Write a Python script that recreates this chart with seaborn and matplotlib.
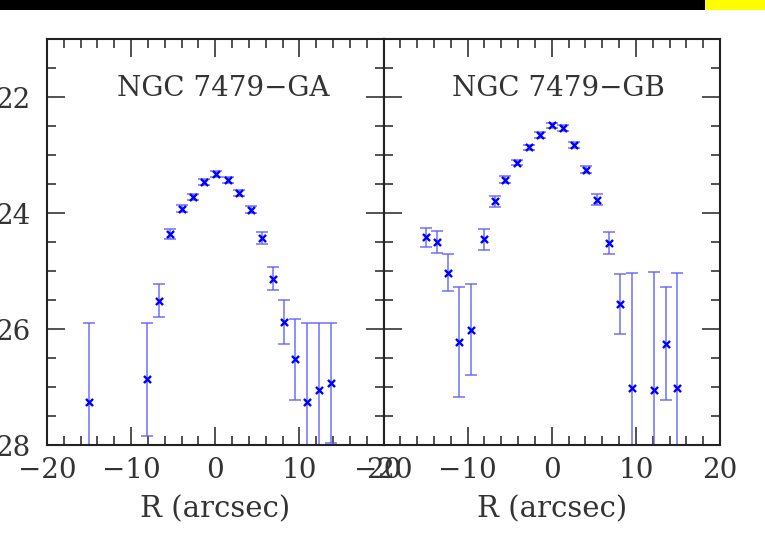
import matplotlib
matplotlib.use("Agg")
import matplotlib.pyplot as plt
from matplotlib.patches import Rectangle
import pandas as pd
import seaborn as sns

# NGC 7479 - GA profile
ga_r = [-15.0, -8.1, -6.7, -5.4, -4.0, -2.7, -1.3, 0.1, 1.5, 2.8, 4.2,
        5.6, 6.9, 8.2, 9.5, 10.9, 12.3, 13.7]
ga_mu = [27.26, 26.87, 25.51, 24.36, 23.93, 23.73, 23.46, 23.33, 23.43,
         23.65, 23.94, 24.43, 25.13, 25.88, 26.52, 27.25, 27.06, 26.93]
ga_err = [1.36, 0.97, 0.28, 0.08, 0.06, 0.05, 0.05, 0.05, 0.05, 0.05, 0.06,
          0.10, 0.20, 0.38, 0.70, 1.35, 1.16, 1.03]

# NGC 7479 - GB profile
gb_r = [-15.0, -13.6, -12.3, -11.0, -9.6, -8.1, -6.8, -5.5, -4.1, -2.7,
        -1.4, 0.0, 1.3, 2.7, 4.1, 5.4, 6.8, 8.1, 9.5, 12.2, 13.6, 14.9]
gb_mu = [24.42, 24.50, 25.03, 26.22, 26.01, 24.45, 23.80, 23.43, 23.13,
         22.87, 22.65, 22.49, 22.54, 22.83, 23.25, 23.77, 24.51, 25.57,
         27.02, 27.06, 26.25, 27.02]
gb_err = [0.17, 0.19, 0.32, 0.95, 0.79, 0.18, 0.09, 0.06, 0.05, 0.05, 0.05,
          0.05, 0.05, 0.05, 0.06, 0.10, 0.19, 0.52, 1.98, 2.04, 0.98, 1.98]

labels = ["NGC 7479\u2212GA", "NGC 7479\u2212GB"]
label_pos = [(1.0, 21.86), (0.75, 21.86)]

sns.set_theme(style="ticks")
plt.rcParams["font.family"] = ["DejaVu Serif"]
plt.rcParams["text.color"] = "#333333"
plt.rcParams["axes.labelcolor"] = "#333333"

fig, axes = plt.subplots(1, 2, figsize=(7.65, 5.33), dpi=100, sharey=True)
fig.subplots_adjust(left=47 / 765, right=720 / 765, top=1 - 39 / 533,
                    bottom=1 - 445 / 533, wspace=0)

profiles = [(ga_r, ga_mu, ga_err), (gb_r, gb_mu, gb_err)]
for ax, (r, mu, err), lab, pos in zip(axes, profiles, labels, label_pos):
    df = pd.DataFrame({"R": r, "mu": mu, "err": err})
    ax.errorbar(df["R"], df["mu"], yerr=df["err"], fmt="none",
                ecolor="#5c5cff", elinewidth=1.3, capsize=4.5, capthick=1.3,
                alpha=0.75, zorder=2)
    sns.scatterplot(data=df, x="R", y="mu", ax=ax, marker="x", s=26,
                    color="#0000ff", linewidth=1.7, zorder=3, legend=False)
    ax.text(pos[0], pos[1], lab, ha="center", va="center", fontsize=20,
            color="#333333")
    ax.set_xlim(-20, 20)
    ax.set_ylim(28, 21)
    ax.set_xticks([-20, -10, 0, 10, 20])
    ax.set_xticks(range(-20, 21, 2), minor=True)
    ax.set_yticks([22, 24, 26, 28])
    ax.set_yticks([21 + 0.5 * i for i in range(15)], minor=True)
    ax.set_xticklabels(["\u221220", "\u221210", "0", "10", "20"])
    ax.set_xlabel("R (arcsec)", fontsize=21, labelpad=8)
    ax.set_ylabel("")
    ax.tick_params(which="both", direction="in", top=True, right=True,
                   colors="#333333", labelsize=20, width=1.2)
    ax.tick_params(which="major", length=13, pad=12)
    ax.tick_params(which="minor", length=6.5)
    ax.tick_params(axis="x", which="major", pad=9)
    for sp in ax.spines.values():
        sp.set_color("#222222")
        sp.set_linewidth(1.5)

axes[1].tick_params(labelleft=False)

# strip along the top edge of the scan
fig.add_artist(Rectangle((0, 1 - 10 / 533), 1, 10 / 533,
                         transform=fig.transFigure, color="black", lw=0))
fig.add_artist(Rectangle((705 / 765, 1 - 10 / 533), 60 / 765, 10 / 533,
                         transform=fig.transFigure, color="#ffff00", lw=0))

fig.savefig("out.png", dpi=100)
